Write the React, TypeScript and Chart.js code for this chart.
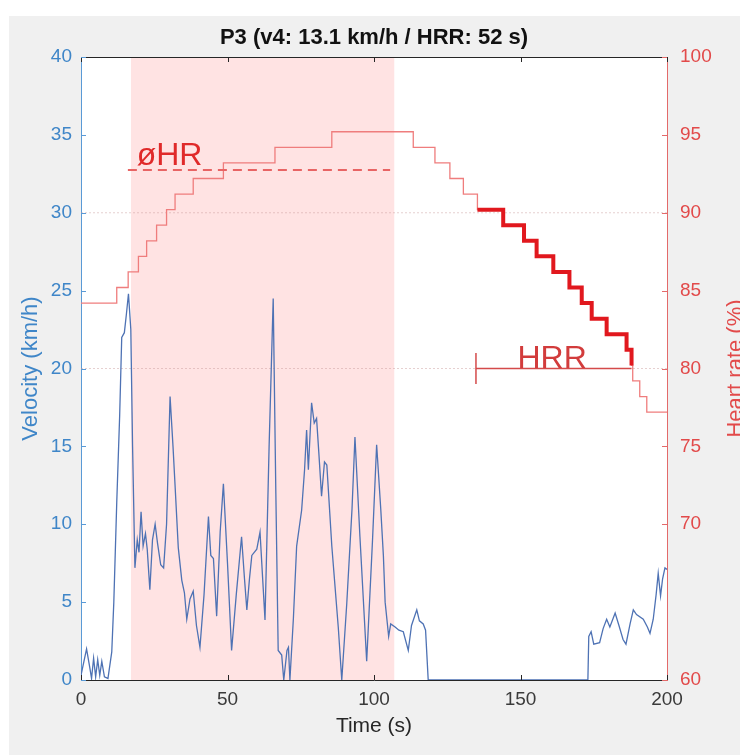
import React, { useEffect, useRef } from 'react';
import { Chart, registerables } from 'chart.js';

Chart.register(...registerables);

// ---------- data ----------
const chartTitle = 'P3 (v4: 13.1 km/h / HRR: 52 s)';
const xLabel = 'Time (s)';
const leftLabel = 'Velocity (km/h)';
const rightLabel = 'Heart rate (%)';

const xTickValues = [0, 50, 100, 150, 200];
const leftTickValues = [0, 5, 10, 15, 20, 25, 30, 35, 40];
const rightTickValues = [60, 70, 75, 80, 85, 90, 95, 100];

// velocity trace (time s, km/h)
const velTime = [
  0, 1, 1.9, 3, 3.6, 4.3, 5, 5.7, 6.4, 7.1, 8, 9.2, 10.5, 11.2, 12.2, 13.2, 13.9, 14.8, 15.5, 16.2,
  17, 17.6, 18.4, 19.2, 19.8, 20.5, 21.2, 22, 22.6, 23.5, 24.4, 25.3, 26.1, 27.2, 28.2, 29.2, 30.4,
  31.4, 32.1, 33.2, 34.4, 35.3, 36.1, 37.2, 38.3, 39.4, 40.6, 42, 43.5, 44.3, 45.2, 46.3, 47.5, 48.6,
  50, 51.4, 53, 54.8, 55.8, 56.6, 57.5, 58.3, 60, 61.1, 62, 62.8, 64.2, 65.6, 66.5, 67.3, 68.5, 69.2,
  70.3, 70.8, 71.3, 72.5, 73.6, 75.3, 76.3, 77, 77.6, 78.7, 79.6, 80.4, 81.2, 82.1, 83.1, 83.9, 85.6,
  87.8, 89, 90.7, 92.5, 93.5, 95.2, 97.5, 99.5, 100.9, 102.3, 103.2, 103.8, 105, 105.7, 107.2, 108.5,
  110, 111.7, 112.8, 114.6, 115.5, 116.8, 117.6, 118.5, 173, 173.3, 174.1, 175, 177, 178.2, 179.4,
  180.5, 182.3, 183.6, 185, 186, 187.4, 188.5, 189.6, 191.9, 193.3, 194.2, 195.3, 196.3, 197, 197.8,
  198.5, 199.3, 200,
];
const velocity = [
  0.3, 1.2, 2.0, 0.8, 0.1, 1.4, 0.2, 1.3, 0.3, 1.2, 0.2, 0.1, 1.8, 5, 11.4, 17, 22, 22.3, 23.5, 24.8,
  22.5, 15, 7.2, 9, 8.2, 10.8, 8.6, 9.4, 8.4, 5.8, 9, 10, 8.8, 7.4, 7.2, 10, 18.2,
  15, 12.5, 8.5, 6.4, 5.6, 3.9, 5.2, 5.7, 3.5, 2.1, 5.5, 10.5, 8, 7.8, 4.1, 9.5, 12.6,
  7.5, 1.9, 5.5, 9.2, 6.5, 4.5, 6.5, 8.0, 8.4, 9.5, 6.5, 3.85, 15, 24.5, 12, 1.9, 1.6, 0,
  1.9, 2.1, 0, 4, 8.6, 10.9, 13.5, 16.05, 13.5, 17.8, 16.5, 16.8, 14.5, 11.8, 14, 13.8, 8.6,
  3.4, 0, 4.9, 11, 15.6, 9.2, 1.2, 9, 15.1, 11, 8.0, 5, 2.8, 3.6, 3.4, 3.2,
  3.1, 1.9, 3.5, 4.5, 3.8, 3.6, 3.2, 0, 0, 2.8, 3.1, 2.3, 2.4, 3.3, 3.9,
  3.4, 4.3, 3.5, 2.6, 2.3, 3.6, 4.5, 4.2, 3.9, 3.4, 3.0, 3.9, 5.5, 6.85, 5.4,
  6.5, 7.2, 7.1,
];

// heart rate staircase (time s where each level starts, % HRmax)
const hrTime = [
  0, 12.2, 16.1, 19.6, 22.4, 25.8, 29.2, 32.1, 38.3, 48.6, 66.2, 85.6, 113.4, 120.8, 125.9, 130.5,
  135.3, 144.1, 151.2, 155.5, 161.2, 166.7, 170.9, 174.3, 179.4, 186.2, 187.9, 188.3, 190.7, 193.1, 200,
];
const hrValues = [
  84.2, 85.2, 86.2, 87.2, 88.2, 89.2, 90.2, 91.2, 92.2, 93.2, 94.2, 95.2, 94.2, 93.2, 92.2, 91.2,
  90.2, 89.2, 88.2, 87.2, 86.2, 85.2, 84.2, 83.2, 82.2, 81.2, 80.2, 79.2, 78.2, 77.2, 77.2,
];

// recovery window (HRR)
const hrrStart = 135.3;
const hrrEnd = 187.9;
const hrrLevel = 80;
const hrrBarLow = 79;
const hrrBarHigh = 81;
const hrrLabel = 'HRR';
const hrrLabelTime = 160.8;

// mean HR during exercise
const meanHR = 92.75;
const meanHRStart = 16;
const meanHREnd = 105.5;
const meanLabel = 'øHR';
const meanLabelTime = 19;
const meanLabelHR = 93.05;

// exercise phase shading
const shadeStart = 17;
const shadeEnd = 107;

// reference levels (% HR)
const refLevels = [90, 80];

// ---------- colours ----------
const LEFT_COLOR = '#3f86c8';
const LEFT_AXIS = '#5a9ad6';
const RIGHT_COLOR = '#e24a4a';
const RIGHT_AXIS = '#e36a6a';
const FONT = '"Liberation Sans", Arial, Helvetica, sans-serif';

const pts = (xs: number[], ys: number[]) => xs.map((x, i) => ({ x, y: ys[i] }));

export default function App() {
  const ref = useRef<HTMLCanvasElement | null>(null);

  useEffect(() => {
    document.body.style.margin = '0';
    const canvas = ref.current;
    if (!canvas) return;

    const hrPts = pts(hrTime, hrValues);
    const thickPts = hrPts.filter((p) => p.x >= hrrStart - 1e-6 && p.x <= hrrEnd + 1e-6);

    const decor = {
      id: 'decor',
      beforeDraw(chart: any) {
        const { ctx, chartArea: a, width, height } = chart;
        ctx.save();
        ctx.fillStyle = '#ffffff';
        ctx.fillRect(0, 0, width, height);
        ctx.fillStyle = '#f0f0f0';
        ctx.fillRect(9, 16, width - 9, height - 17);
        ctx.fillStyle = '#ffffff';
        ctx.fillRect(a.left, a.top, a.right - a.left, a.bottom - a.top);
        ctx.restore();
      },
      afterDatasetsDraw(chart: any) {
        const { ctx, chartArea: a } = chart;
        const sx = chart.scales.x;
        const sy = chart.scales.y;
        const sy2 = chart.scales.y2;
        ctx.save();
        // top border
        ctx.strokeStyle = '#262626';
        ctx.lineWidth = 1;
        ctx.beginPath();
        ctx.moveTo(a.left, a.top + 0.5);
        ctx.lineTo(a.right, a.top + 0.5);
        ctx.stroke();
        // inward ticks
        const tl = 5;
        ctx.strokeStyle = '#262626';
        xTickValues.forEach((v) => {
          const px = Math.round(sx.getPixelForValue(v)) + 0.5;
          ctx.beginPath();
          ctx.moveTo(px, a.bottom);
          ctx.lineTo(px, a.bottom - tl);
          ctx.moveTo(px, a.top);
          ctx.lineTo(px, a.top + tl);
          ctx.stroke();
        });
        ctx.strokeStyle = LEFT_AXIS;
        leftTickValues.forEach((v) => {
          const py = Math.round(sy.getPixelForValue(v)) + 0.5;
          ctx.beginPath();
          ctx.moveTo(a.left, py);
          ctx.lineTo(a.left + tl, py);
          ctx.stroke();
        });
        ctx.strokeStyle = RIGHT_AXIS;
        rightTickValues.forEach((v) => {
          const py = Math.round(sy2.getPixelForValue(v)) + 0.5;
          ctx.beginPath();
          ctx.moveTo(a.right, py);
          ctx.lineTo(a.right - tl, py);
          ctx.stroke();
        });

        // annotations
        ctx.fillStyle = '#e02a2a';
        ctx.font = `32px ${FONT}`;
        ctx.textAlign = 'left';
        ctx.textBaseline = 'alphabetic';
        ctx.fillText(meanLabel, sx.getPixelForValue(meanLabelTime), sy2.getPixelForValue(meanLabelHR));
        ctx.fillStyle = '#d23c3c';
        ctx.textAlign = 'center';
        ctx.fillText(hrrLabel, sx.getPixelForValue(hrrLabelTime), sy2.getPixelForValue(hrrLevel) - 1);

        // title
        ctx.fillStyle = '#111111';
        ctx.font = `bold 22px ${FONT}`;
        ctx.textAlign = 'center';
        ctx.textBaseline = 'middle';
        ctx.fillText(chartTitle, (a.left + a.right) / 2, 38);
        // x label
        ctx.fillStyle = '#262626';
        ctx.font = `21px ${FONT}`;
        ctx.fillText(xLabel, (a.left + a.right) / 2, 726);
        // y labels
        ctx.font = `22px ${FONT}`;
        const cy = (a.top + a.bottom) / 2;
        ctx.save();
        ctx.translate(31, cy);
        ctx.rotate(-Math.PI / 2);
        ctx.fillStyle = LEFT_COLOR;
        ctx.fillText(leftLabel, 0, 0);
        ctx.restore();
        ctx.save();
        ctx.translate(736, cy);
        ctx.rotate(-Math.PI / 2);
        ctx.fillStyle = RIGHT_COLOR;
        ctx.fillText(rightLabel, 0, 0);
        ctx.restore();
        ctx.restore();
      },
    };

    const chart = new Chart(canvas, {
      type: 'line',
      data: {
        datasets: [
          {
            label: 'shade',
            data: [
              { x: shadeStart, y: 40 },
              { x: shadeEnd, y: 40 },
            ],
            yAxisID: 'y',
            fill: 'origin',
            backgroundColor: 'rgba(255, 40, 40, 0.13)',
            borderWidth: 0,
            pointRadius: 0,
            order: 20,
          },
          ...refLevels.map((lv) => ({
            label: 'ref' + lv,
            data: [
              { x: 0, y: lv },
              { x: 200, y: lv },
            ],
            yAxisID: 'y2',
            borderColor: 'rgba(200, 150, 150, 0.45)',
            borderWidth: 1,
            borderDash: [2, 2],
            pointRadius: 0,
            fill: false,
            order: 15,
          })),
          {
            label: 'velocity',
            data: pts(velTime, velocity),
            yAxisID: 'y',
            borderColor: '#4e72b4',
            borderWidth: 1.3,
            pointRadius: 0,
            fill: false,
            order: 10,
          },
          {
            label: 'HR',
            data: hrPts,
            yAxisID: 'y2',
            stepped: 'before',
            borderColor: '#ef7d7d',
            borderWidth: 1.3,
            pointRadius: 0,
            fill: false,
            order: 8,
          },
          {
            label: 'meanHR',
            data: [
              { x: meanHRStart, y: meanHR },
              { x: meanHREnd, y: meanHR },
            ],
            yAxisID: 'y2',
            borderColor: '#e86464',
            borderWidth: 2,
            borderDash: [9, 6],
            pointRadius: 0,
            fill: false,
            order: 6,
          },
          {
            label: 'HRRline',
            data: [
              { x: hrrStart - 0.5, y: hrrLevel },
              { x: hrrEnd, y: hrrLevel },
            ],
            yAxisID: 'y2',
            borderColor: '#d44a4a',
            borderWidth: 1.5,
            pointRadius: 0,
            fill: false,
            order: 5,
          },
          {
            label: 'HRRbar',
            data: [
              { x: hrrStart - 0.5, y: hrrBarLow },
              { x: hrrStart - 0.5, y: hrrBarHigh },
            ],
            yAxisID: 'y2',
            borderColor: '#d44a4a',
            borderWidth: 1.5,
            pointRadius: 0,
            fill: false,
            order: 4,
          },
          {
            label: 'HRRthick',
            data: thickPts,
            yAxisID: 'y2',
            stepped: 'before',
            borderColor: '#e1181e',
            borderWidth: 4,
            pointRadius: 0,
            fill: false,
            order: 1,
          },
        ] as any,
      },
      options: {
        animation: false,
        responsive: false,
        maintainAspectRatio: false,
        layout: { padding: { top: 57, left: 0, right: 0, bottom: 0 } },
        plugins: {
          legend: { display: false },
          tooltip: { enabled: false },
          title: { display: false },
        },
        scales: {
          x: {
            type: 'linear',
            position: 'bottom',
            min: 0,
            max: 200,
            afterBuildTicks: (s: any) => {
              s.ticks = xTickValues.map((v) => ({ value: v }));
            },
            afterFit: (s: any) => {
              s.height = 76;
            },
            grid: { display: false, drawTicks: false },
            border: { display: true, color: '#262626', width: 1 },
            ticks: {
              color: '#3a3a3a',
              font: { family: FONT, size: 19 },
              padding: 8,
              maxRotation: 0,
            },
          },
          y: {
            type: 'linear',
            position: 'left',
            min: 0,
            max: 40,
            afterBuildTicks: (s: any) => {
              s.ticks = leftTickValues.map((v) => ({ value: v }));
            },
            afterFit: (s: any) => {
              s.width = 81;
            },
            grid: { display: false, drawTicks: false },
            border: { display: true, color: LEFT_AXIS, width: 1 },
            ticks: {
              color: LEFT_COLOR,
              font: { family: FONT, size: 19 },
              padding: 9,
            },
          },
          y2: {
            type: 'linear',
            position: 'right',
            min: 60,
            max: 100,
            afterBuildTicks: (s: any) => {
              s.ticks = rightTickValues.map((v) => ({ value: v }));
            },
            afterFit: (s: any) => {
              s.width = 73;
            },
            grid: { display: false, drawTicks: false },
            border: { display: true, color: RIGHT_AXIS, width: 1 },
            ticks: {
              color: RIGHT_COLOR,
              font: { family: FONT, size: 19 },
              padding: 13,
            },
          },
        },
      } as any,
      plugins: [decor],
    });

    return () => chart.destroy();
  }, []);

  return (
    <div style={{ width: 740, height: 756, position: 'relative' }}>
      <canvas ref={ref} width={740} height={756} style={{ display: 'block', width: 740, height: 756 }} />
    </div>
  );
}
